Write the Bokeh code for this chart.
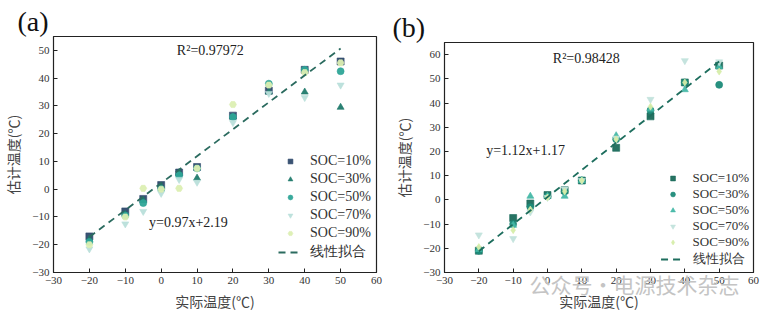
from bokeh.plotting import figure
from bokeh.layouts import row, column
from bokeh.models import FixedTicker, Range1d, Label, Legend, LegendItem, Title
from bokeh.embed import file_html
from bokeh.resources import INLINE

x_vals = [-20, -10, -5, 0, 5, 10, 20, 30, 40, 50]
soc_labels = ["SOC=10%", "SOC=30%", "SOC=50%", "SOC=70%", "SOC=90%"]

a_soc10 = [-17, -8, -3.5, 1.5, 6, 8, 26.5, 35.5, 43, 46]
a_soc30 = [-18, -9, -4, 1, 6, 4, 26, 35, 35, 29.5]
a_soc50 = [-19, -9.5, -5, 0, 5, 7.5, 26, 38, 43, 42.5]
a_soc70 = [-21.5, -12.5, -8, -1.5, 3.5, 2.5, 24, 34.5, 33, 37.5]
a_soc90 = [-20, -10, 0.3, 0, 0.3, 7.5, 30.5, 37.5, 42, 45.5]
a_fit = (0.97, 2.19)

b_soc10 = [-21, -7.5, -1.5, 2, 4, 8, 21.5, 34.5, 48.5, 55.5]
b_soc30 = [-21, -10, -3, 1.5, 3.5, 8, 25, 37, 48.5, 47.5]
b_soc50 = [-20.5, -10.5, 1.5, 1.5, 1.5, 8, 26.5, 37.5, 45.5, 55]
b_soc70 = [-14.5, -16, -5, 1, 4.5, 8, 25.5, 41.5, 57.5, 57]
b_soc90 = [-19.5, -12.5, -4, 1, 3.5, 8, 25, 38.5, 48.5, 53]
b_fit = (1.12, 1.17)

x_ticks = [-30, -20, -10, 0, 10, 20, 30, 40, 50, 60]
a_yticks = [-30, -20, -10, 0, 10, 20, 30, 40, 50]
b_yticks = [-30, -20, -10, 0, 10, 20, 30, 40, 50, 60]

SERIF = "'Liberation Serif', serif"
LSERIF = "Liberation Serif"
CJK = "Noto Sans CJK SC"


def make_panel(tag, series, markers, colors, fit, fit_color, yr, yticks,
               borders, r2_text, r2_pos, eq_text, eq_pos, tag_offset, tag_lh,
               leg_font, leg_spacing, leg_loc):
    left, right, top, bottom = borders
    p = figure(width=391, height=317, output_backend="svg", toolbar_location=None,
               x_range=Range1d(-30, 60), y_range=Range1d(*yr),
               min_border_left=left, min_border_right=right,
               min_border_top=top, min_border_bottom=bottom)
    p.title = Title(text=tag, align="left", offset=tag_offset, standoff=0,
                    vertical_align="bottom", text_line_height=tag_lh,
                    text_font=LSERIF, text_font_size="28px",
                    text_font_style="normal", text_color="#111111")
    p.grid.visible = False
    p.outline_line_color = "#222222"
    p.outline_line_width = 1.2
    p.background_fill_color = "white"
    p.border_fill_color = "white"
    p.xaxis.ticker = FixedTicker(ticks=x_ticks)
    p.yaxis.ticker = FixedTicker(ticks=yticks)
    for ax in (p.xaxis[0], p.yaxis[0]):
        ax.major_tick_in = 4
        ax.major_tick_out = 0
        ax.minor_tick_line_color = None
        ax.axis_line_color = "#222222"
        ax.major_tick_line_color = "#222222"
        ax.major_label_text_font = SERIF
        ax.major_label_text_font_size = "11px"
        ax.major_label_text_color = "#333333"
        ax.axis_label_text_font = CJK
        ax.axis_label_text_font_size = "14px"
        ax.axis_label_text_font_style = "normal"
        ax.axis_label_text_color = "#444444"
    p.xaxis.axis_label = "实际温度(℃)"
    p.yaxis.axis_label = "估计温度(℃)"
    p.xaxis.axis_label_standoff = 4
    p.yaxis.axis_label_standoff = 6
    p.xaxis.major_label_standoff = 4
    p.yaxis.major_label_standoff = 4

    items = []
    for vals, mk, col, lab in zip(series, markers, colors, soc_labels):
        r = p.scatter(x_vals, vals, marker=mk, size=7, fill_color=col,
                      line_color=col, line_alpha=0.6, fill_alpha=0.95)
        items.append(LegendItem(label=lab, renderers=[r]))
    fx = [x_vals[0], x_vals[-1]]
    fy = [fit[0] * v + fit[1] for v in fx]
    lr = p.line(fx, fy, line_color=fit_color, line_width=1.8, line_dash="7 5")
    items.append(LegendItem(label="线性拟合", renderers=[lr]))

    legend = Legend(items=items, location=leg_loc,
                    background_fill_alpha=0, border_line_color=None,
                    label_text_font=SERIF, label_text_font_size=leg_font,
                    label_text_color="#333333",
                    glyph_width=24, glyph_height=12, label_height=12,
                    spacing=leg_spacing, label_standoff=8, margin=4, padding=2)
    p.add_layout(legend)

    p.add_layout(Label(x=r2_pos[0], y=r2_pos[1], text=r2_text, text_font=LSERIF,
                       text_font_size="14px", text_color="#222222",
                       text_align="center", text_baseline="middle"))
    p.add_layout(Label(x=eq_pos[0], y=eq_pos[1], text=eq_text, text_font=LSERIF,
                       text_font_size="14px", text_color="#222222",
                       text_align="center", text_baseline="middle"))
    return p


pa = make_panel(
    "(a)",
    [a_soc10, a_soc30, a_soc50, a_soc70, a_soc90],
    ["square", "triangle", "circle", "inverted_triangle", "hex"],
    ["#2f4a6c", "#1f7a6b", "#2ea597", "#b9dfda", "#dcefb2"],
    a_fit, "#2b6b5f", (-30, 55), a_yticks, (53, 15, 36, 45),
    "R²=0.97972", (13.7, 50), "y=0.97x+2.19", (7.6, -12), -36, 0.5,
    "14px", 2, (225, 11),
)

pb = make_panel(
    "(b)",
    [b_soc10, b_soc30, b_soc50, b_soc70, b_soc90],
    ["square", "circle", "triangle", "inverted_triangle", "diamond"],
    ["#1b6b5b", "#1d8b79", "#45b8a6", "#c2e2dc", "#d6eda9"],
    b_fit, "#1e6e5e", (-30, 65), b_yticks, (42, 29, 42, 45),
    "R²=0.98428", (11.3, 58.4), "y=1.12x+1.17", (-6.4, 20.2), -52, 1.0,
    "13px", 0, "bottom_right",
)

watermark = Title(text="公众号·电源技术杂志", align="left", offset=85,
                  standoff=-90, vertical_align="top", text_font=CJK,
                  text_font_size="21px", text_font_style="normal",
                  text_color="#c4c4c4")
pb.add_layout(watermark, "below")

layout = row(column(pa), column(pb))
open("out.html", "w").write(file_html(layout, INLINE))
